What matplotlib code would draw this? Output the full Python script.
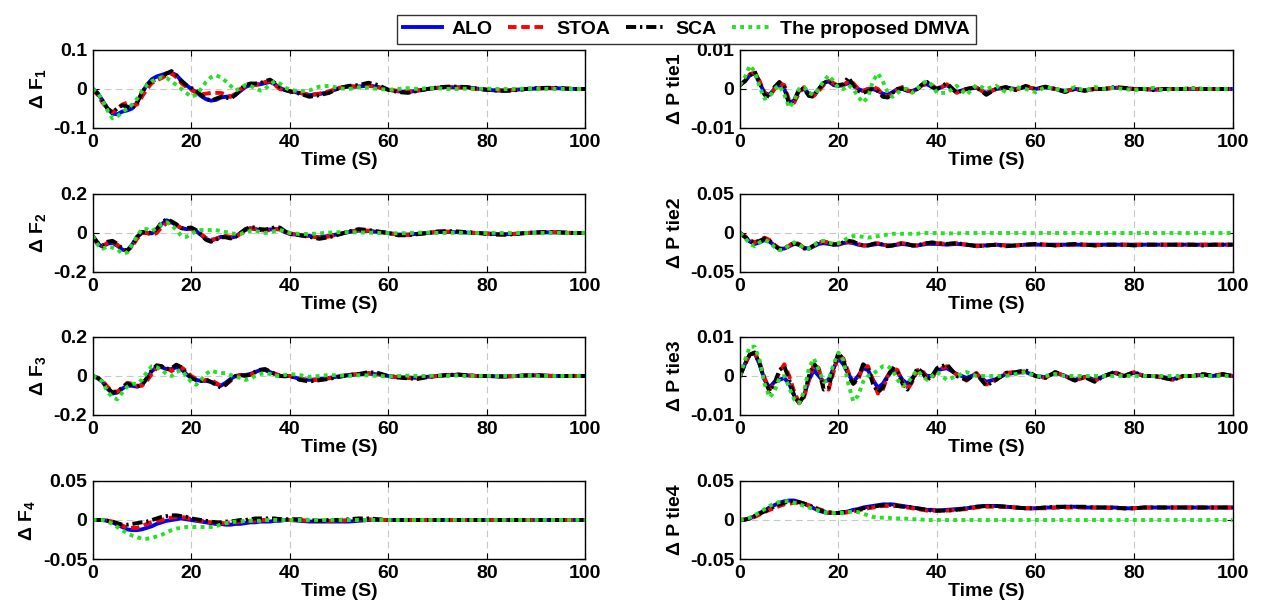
import numpy as np
import matplotlib
matplotlib.use('Agg')
import matplotlib.pyplot as plt

plt.rcParams['font.family'] = ['Liberation Sans', 'DejaVu Sans']
plt.rcParams['font.weight'] = 'bold'
plt.rcParams['mathtext.fontset'] = 'custom'
plt.rcParams['mathtext.rm'] = 'Liberation Sans:bold'
plt.rcParams['mathtext.it'] = 'Liberation Sans:bold'
plt.rcParams['mathtext.bf'] = 'Liberation Sans:bold'

# time knots: every 1 s up to 40 s, then every 2 s
time_s = np.concatenate([np.arange(0, 41), np.arange(42, 101, 2)])

series_names = ['ALO', 'STOA', 'SCA', 'The proposed DMVA']

# ---------------- Delta F1 ----------------
f1_alo = [0, -0.01, -0.03, -0.05, -0.063, -0.065, -0.058, -0.055, -0.05, -0.035,
          -0.01, 0.01, 0.025, 0.032, 0.036, 0.04, 0.042, 0.035, 0.022, 0.01,
          0.0, -0.008, -0.018, -0.026, -0.03, -0.028, -0.022, -0.02, -0.019, -0.015,
          -0.005, 0.005, 0.01, 0.012, 0.012, 0.015, 0.018, 0.012, 0.003, -0.003, -0.006,
          -0.01, -0.016, -0.013, -0.008, 0.002, 0.006, 0.006, 0.009, 0.005, -0.002,
          -0.006, -0.008, -0.004, 0.0, 0.003, 0.005, 0.004, 0.004, 0.001, -0.002,
          -0.004, -0.004, -0.002, 0.0, 0.001, 0.002, 0.002, 0.001, 0.0, 0.0]
f1_stoa = [0, -0.015, -0.035, -0.05, -0.06, -0.05, -0.04, -0.035, -0.042, -0.04,
           -0.02, 0.0, 0.015, 0.022, 0.028, 0.035, 0.04, 0.03, 0.015, 0.005,
           -0.002, -0.01, -0.014, -0.012, -0.01, -0.01, -0.01, -0.014, -0.02, -0.012,
           0.0, 0.006, 0.008, 0.01, 0.012, 0.018, 0.02, 0.01, 0.0, -0.004, -0.006,
           -0.009, -0.015, -0.012, -0.006, 0.003, 0.007, 0.006, 0.009, 0.004, -0.002,
           -0.005, -0.007, -0.004, 0.0, 0.003, 0.005, 0.004, 0.003, 0.0, -0.002,
           -0.003, -0.004, -0.002, 0.0, 0.001, 0.002, 0.002, 0.001, 0.0, 0.0]
f1_sca = [0, -0.012, -0.03, -0.05, -0.06, -0.05, -0.042, -0.045, -0.05, -0.035,
          -0.01, 0.01, 0.02, 0.025, 0.03, 0.04, 0.046, 0.035, 0.02, 0.01,
          0.003, -0.005, -0.015, -0.025, -0.03, -0.025, -0.02, -0.022, -0.025, -0.015,
          0.0, 0.01, 0.014, 0.014, 0.015, 0.02, 0.024, 0.015, 0.005, -0.002, -0.006,
          -0.012, -0.02, -0.016, -0.01, 0.002, 0.008, 0.01, 0.016, 0.01, -0.002,
          -0.008, -0.01, -0.005, 0.0, 0.004, 0.006, 0.006, 0.005, 0.001, -0.002,
          -0.004, -0.005, -0.003, 0.0, 0.002, 0.003, 0.003, 0.001, 0.0, 0.0]
f1_dmva = [0, -0.01, -0.03, -0.055, -0.075, -0.07, -0.06, -0.05, -0.04, -0.025,
           -0.005, 0.01, 0.02, 0.025, 0.03, 0.028, 0.02, 0.01, 0.0, -0.01,
           -0.02, -0.015, 0.0, 0.018, 0.03, 0.035, 0.03, 0.02, 0.008, -0.004,
           0.002, 0.01, 0.008, 0.002, -0.004, 0.0, 0.012, 0.02, 0.014, 0.004, -0.002,
           -0.006, -0.004, 0.006, 0.008, 0.002, 0.0, 0.004, 0.003, 0.0, -0.002,
           0.0, 0.002, 0.0, 0.002, 0.002, 0.0, 0.0, 0.001, 0.0, 0.001,
           0.0, 0.0, 0.0, 0.001, 0.0, 0.0, 0.0, 0.0, 0.0, 0.0]

# ---------------- Delta F2 ----------------
f2_alo = [-0.02, -0.055, -0.07, -0.055, -0.05, -0.065, -0.085, -0.09, -0.06, -0.02,
          0.0, 0.0, -0.002, 0.015, 0.045, 0.065, 0.055, 0.04, 0.025, 0.02,
          0.02, 0.01, -0.01, -0.03, -0.04, -0.03, -0.02, -0.02, -0.025, -0.018,
          0.0, 0.015, 0.025, 0.02, 0.015, 0.015, 0.018, 0.02, 0.018, 0.005, -0.005,
          -0.01, -0.015, -0.022, -0.015, -0.005, 0.005, 0.012, 0.01, 0.005, 0.0,
          -0.008, -0.008, -0.004, 0.0, 0.005, 0.005, 0.004, 0.002, 0.0, -0.002,
          -0.006, -0.006, -0.004, 0.0, 0.002, 0.003, 0.003, 0.001, 0.0, 0.0]
f2_stoa = [-0.015, -0.05, -0.068, -0.05, -0.045, -0.06, -0.085, -0.09, -0.07, -0.03,
           0.0, 0.0, -0.01, 0.0, 0.03, 0.05, 0.055, 0.04, 0.025, 0.02,
           0.022, 0.012, -0.005, -0.025, -0.035, -0.03, -0.02, -0.015, -0.02, -0.02,
           -0.005, 0.012, 0.022, 0.022, 0.015, 0.012, 0.015, 0.02, 0.02, 0.01, -0.002,
           -0.01, -0.016, -0.024, -0.018, -0.006, 0.006, 0.014, 0.012, 0.006, 0.0,
           -0.01, -0.01, -0.005, 0.0, 0.006, 0.007, 0.006, 0.003, 0.0, -0.003,
           -0.007, -0.007, -0.004, 0.0, 0.002, 0.004, 0.004, 0.001, 0.0, 0.0]
f2_sca = [-0.015, -0.05, -0.065, -0.045, -0.04, -0.055, -0.08, -0.092, -0.065, -0.02,
          0.005, 0.005, 0.0, 0.02, 0.055, 0.07, 0.06, 0.045, 0.025, 0.025,
          0.028, 0.015, -0.01, -0.035, -0.045, -0.035, -0.022, -0.022, -0.028, -0.02,
          0.0, 0.02, 0.03, 0.028, 0.02, 0.018, 0.022, 0.03, 0.028, 0.01, -0.005,
          -0.012, -0.02, -0.03, -0.022, -0.008, 0.008, 0.02, 0.015, 0.008, 0.0,
          -0.012, -0.012, -0.006, 0.0, 0.008, 0.01, 0.008, 0.004, 0.0, -0.004,
          -0.008, -0.009, -0.005, 0.0, 0.003, 0.005, 0.005, 0.002, 0.0, 0.0]
f2_dmva = [-0.015, -0.06, -0.08, -0.07, -0.075, -0.085, -0.105, -0.1, -0.06, -0.015,
           0.02, 0.02, 0.01, 0.025, 0.045, 0.055, 0.04, 0.015, -0.015, -0.02,
           -0.005, 0.01, 0.015, 0.015, 0.015, 0.015, 0.01, 0.005, 0.0, -0.005,
           -0.005, 0.005, 0.01, 0.01, 0.005, 0.0, 0.005, 0.01, 0.015, 0.01, 0.0,
           -0.005, -0.005, -0.002, 0.002, 0.004, 0.004, 0.003, 0.002, 0.0, 0.0,
           -0.002, 0.0, 0.002, 0.002, 0.0, 0.0, 0.002, 0.0, 0.0, 0.0,
           0.001, 0.0, 0.0, 0.0, 0.0, 0.0, 0.001, 0.0, 0.0, 0.0]

# ---------------- Delta F3 ----------------
f3_alo = [0, -0.01, -0.03, -0.065, -0.09, -0.085, -0.065, -0.05, -0.05, -0.055,
          -0.045, -0.015, 0.025, 0.045, 0.045, 0.035, 0.035, 0.045, 0.035, 0.01,
          -0.01, -0.02, -0.025, -0.025, -0.03, -0.04, -0.05, -0.035, -0.015, 0.0,
          0.005, 0.005, 0.01, 0.02, 0.03, 0.03, 0.02, 0.01, 0.0, 0.0, 0.0,
          -0.015, -0.02, -0.016, -0.01, -0.002, 0.005, 0.008, 0.012, 0.008, 0.0,
          -0.006, -0.008, -0.01, -0.004, 0.0, 0.004, 0.006, 0.003, 0.0, 0.0,
          -0.002, -0.002, 0.0, 0.002, 0.003, 0.001, 0.0, 0.0, 0.0, 0.0]
f3_stoa = [0, -0.01, -0.025, -0.055, -0.08, -0.08, -0.06, -0.035, -0.04, -0.05,
           -0.05, -0.025, 0.01, 0.04, 0.05, 0.04, 0.025, 0.04, 0.045, 0.025,
           0.0, -0.015, -0.022, -0.02, -0.02, -0.035, -0.05, -0.045, -0.025, -0.005,
           0.005, 0.002, 0.005, 0.018, 0.03, 0.035, 0.025, 0.012, 0.002, -0.002, 0.0,
           -0.016, -0.024, -0.018, -0.012, -0.003, 0.006, 0.01, 0.015, 0.01, 0.0,
           -0.007, -0.01, -0.012, -0.005, 0.0, 0.005, 0.007, 0.003, 0.0, 0.0,
           -0.002, -0.003, 0.0, 0.003, 0.003, 0.002, 0.0, 0.0, 0.0, 0.0]
f3_sca = [0, -0.01, -0.03, -0.06, -0.085, -0.08, -0.06, -0.04, -0.045, -0.055,
          -0.045, -0.01, 0.03, 0.055, 0.05, 0.035, 0.04, 0.058, 0.045, 0.015,
          -0.01, -0.02, -0.025, -0.02, -0.03, -0.045, -0.06, -0.045, -0.02, 0.0,
          0.005, 0.0, 0.008, 0.022, 0.032, 0.035, 0.022, 0.01, 0.0, -0.002, 0.002,
          -0.02, -0.028, -0.022, -0.015, -0.005, 0.005, 0.01, 0.02, 0.015, 0.0,
          -0.008, -0.012, -0.015, -0.006, 0.0, 0.005, 0.008, 0.004, 0.0, 0.0,
          -0.002, -0.003, 0.0, 0.003, 0.004, 0.002, 0.0, 0.0, 0.001, 0.0]
f3_dmva = [0, -0.01, -0.03, -0.08, -0.11, -0.12, -0.085, -0.055, -0.04, -0.04,
           -0.02, 0.02, 0.05, 0.045, 0.03, 0.01, 0.0, 0.02, 0.03, 0.0,
           -0.03, -0.045, -0.02, 0.01, 0.028, 0.02, 0.015, 0.015, 0.005, -0.005,
           -0.01, -0.02, -0.015, 0.0, 0.01, 0.015, 0.01, 0.0, 0.0, 0.005, 0.01,
           0.005, -0.005, 0.0, 0.005, 0.003, 0.0, 0.004, 0.003, 0.0, -0.002,
           0.0, 0.002, 0.0, 0.0, 0.002, 0.0, 0.002, 0.0, 0.0, 0.001,
           0.0, 0.0, 0.0, 0.001, 0.0, 0.0, 0.0, 0.0, 0.0, 0.0]

# ---------------- Delta F4 ----------------
f4_alo = [0, 0.0, 0.0, -0.001, -0.003, -0.006, -0.009, -0.012, -0.013, -0.013,
          -0.012, -0.01, -0.008, -0.005, -0.003, -0.001, 0.0, 0.001, 0.002, 0.001,
          0.0, -0.001, -0.002, -0.003, -0.004, -0.005, -0.005, -0.006, -0.006, -0.005,
          -0.005, -0.004, -0.003, -0.003, -0.002, -0.002, -0.002, -0.001, -0.001, 0.0, 0.0,
          -0.001, -0.002, -0.002, -0.002, -0.002, -0.002, -0.001, 0.0, 0.0, 0.0,
          0.0, 0.0, 0.0, 0.0, 0.0, 0.0, 0.0, 0.0, 0.0, 0.0,
          0.0, 0.0, 0.0, 0.0, 0.0, 0.0, 0.0, 0.0, 0.0, 0.0]
f4_stoa = [0, 0.0, 0.0, -0.001, -0.002, -0.004, -0.007, -0.01, -0.01, -0.01,
           -0.008, -0.005, -0.003, -0.001, 0.0, 0.002, 0.003, 0.004, 0.004, 0.003,
           0.001, 0.0, -0.001, -0.002, -0.003, -0.003, -0.004, -0.004, -0.004, -0.003,
           -0.002, -0.002, -0.001, -0.001, 0.0, 0.0, 0.0, 0.001, 0.001, 0.0, 0.0,
           0.0, -0.001, -0.001, -0.001, -0.001, 0.0, 0.001, 0.001, 0.0, 0.0,
           0.0, 0.0, 0.0, 0.0, 0.0, 0.0, 0.0, 0.0, 0.0, 0.0,
           0.0, 0.0, 0.0, 0.0, 0.0, 0.0, 0.0, 0.0, 0.0, 0.0]
f4_sca = [0, 0.0, 0.0, -0.001, -0.002, -0.004, -0.006, -0.006, -0.005, -0.004,
          -0.003, -0.002, 0.0, 0.002, 0.004, 0.005, 0.006, 0.006, 0.005, 0.004,
          0.002, 0.001, 0.0, -0.001, -0.002, -0.003, -0.003, -0.002, -0.002, -0.001,
          0.0, 0.0, 0.001, 0.002, 0.002, 0.002, 0.002, 0.002, 0.001, 0.001, 0.001,
          0.001, 0.0, -0.001, 0.0, 0.0, 0.001, 0.002, 0.002, 0.001, 0.0,
          0.0, 0.0, 0.0, 0.0, 0.0, 0.0, 0.0, 0.0, 0.0, 0.0,
          0.0, 0.0, 0.0, 0.0, 0.0, 0.0, 0.0, 0.0, 0.0, 0.0]
f4_dmva = [0, 0.0, 0.0, -0.002, -0.005, -0.009, -0.013, -0.017, -0.02, -0.022,
           -0.024, -0.024, -0.023, -0.021, -0.019, -0.016, -0.013, -0.011, -0.01, -0.009,
           -0.009, -0.009, -0.009, -0.009, -0.009, -0.008, -0.006, -0.004, -0.003, -0.002,
           -0.002, -0.001, -0.001, -0.001, -0.001, 0.0, 0.0, 0.0, 0.0, 0.0, 0.0,
           0.0, 0.0, 0.0, 0.0, 0.0, 0.0, 0.0, 0.0, 0.0, 0.0,
           0.0, 0.0, 0.0, 0.0, 0.0, 0.0, 0.0, 0.0, 0.0, 0.0,
           0.0, 0.0, 0.0, 0.0, 0.0, 0.0, 0.0, 0.0, 0.0, 0.0]

# ---------------- Delta P tie1 ----------------
p1_alo = [0.001, 0.002, 0.0035, 0.004, 0.0015, -0.001, -0.0015, 0.0, 0.001, 0.0,
          -0.0035, -0.003, -0.0005, 0.0, -0.0012, -0.0015, 0.0, 0.0015, 0.002, 0.001,
          0.0008, 0.001, 0.0015, 0.001, 0.0, -0.0005, 0.0, 0.0, -0.0005, -0.0012,
          -0.0015, -0.0008, 0.0, 0.0, -0.0005, -0.0005, 0.0, 0.001, 0.0012, 0.0005, 0.0,
          0.001, -0.0008, 0.0, 0.0003, -0.001, 0.0, 0.0003, 0.0, 0.0005, 0.0,
          0.0004, 0.0, -0.0005, 0.0, -0.0003, 0.0, 0.0, 0.0003, 0.0002, 0.0,
          0.0, -0.0002, 0.0, 0.0, 0.0, 0.0, 0.0, 0.0, 0.0, 0.0]
p1_stoa = [0.001, 0.002, 0.0038, 0.0042, 0.002, -0.001, -0.002, 0.0, 0.0015, 0.001,
           -0.003, -0.0035, -0.001, 0.0005, -0.001, -0.0018, -0.0005, 0.001, 0.002, 0.0015,
           0.0008, 0.001, 0.002, 0.0015, 0.0, -0.0005, 0.0, 0.0005, 0.0, -0.0015,
           -0.002, -0.0012, 0.0, 0.0005, -0.0003, -0.0008, 0.0, 0.001, 0.0015, 0.001, 0.0,
           0.0012, -0.001, 0.0, 0.0004, -0.0012, 0.0, 0.0004, -0.0002, 0.0006, 0.0,
           0.0005, 0.0, -0.0006, 0.0, -0.0004, 0.0, 0.0, 0.0004, 0.0002, 0.0,
           0.0, -0.0002, 0.0, 0.0, 0.0, 0.0, 0.0, 0.0, 0.0, 0.0]
p1_sca = [0.001, 0.002, 0.0035, 0.0045, 0.0015, -0.0015, -0.002, 0.0005, 0.0018, 0.0005,
          -0.004, -0.003, 0.0, 0.0, -0.0018, -0.002, 0.0, 0.0015, 0.0022, 0.001,
          0.001, 0.0012, 0.003, 0.001, -0.0005, -0.001, -0.0005, 0.0, -0.0005, -0.002,
          -0.0022, -0.001, 0.0, 0.0002, -0.0005, -0.0008, 0.0, 0.0012, 0.0018, 0.0005, 0.0,
          0.0015, -0.001, 0.0, 0.0005, -0.0015, 0.0, 0.0005, -0.0003, 0.0008, 0.0,
          0.0006, 0.0, -0.0008, 0.0, -0.0005, 0.0, 0.0, 0.0005, 0.0003, 0.0,
          0.0, -0.0003, 0.0, 0.0, 0.0, 0.0002, 0.0, 0.0, 0.0, 0.0]
p1_dmva = [0.001, 0.003, 0.006, 0.0045, 0.0005, -0.0025, -0.002, 0.0, 0.001, -0.0015,
           -0.0048, -0.003, 0.0, 0.0005, -0.001, -0.0015, 0.0, 0.002, 0.0035, 0.002,
           0.0002, 0.0, 0.001, 0.0, -0.002, -0.0035, -0.002, 0.002, 0.004, 0.002,
           -0.001, -0.002, -0.001, 0.0, 0.0, -0.001, 0.0, 0.0015, 0.002, 0.001, -0.001,
           -0.001, 0.0008, -0.0015, 0.001, 0.0, 0.0008, -0.0008, 0.0005, 0.0, -0.0008,
           0.0005, 0.0, -0.0005, 0.0005, -0.0005, 0.0005, 0.0, 0.0003, 0.0, -0.0003,
           0.0, 0.0003, -0.0003, 0.0, 0.0, 0.0002, 0.0, 0.0, 0.0, 0.0]

# ---------------- Delta P tie2 ----------------
p2_alo = [0.0, -0.005, -0.011, -0.014, -0.012, -0.009, -0.011, -0.016, -0.02, -0.02,
          -0.017, -0.014, -0.015, -0.019, -0.02, -0.017, -0.014, -0.013, -0.014, -0.015,
          -0.015, -0.013, -0.012, -0.013, -0.015, -0.016, -0.016, -0.015, -0.014, -0.015,
          -0.016, -0.016, -0.015, -0.014, -0.015, -0.016, -0.016, -0.015, -0.014, -0.014, -0.014,
          -0.015, -0.014, -0.015, -0.016, -0.016, -0.015, -0.016, -0.016, -0.015, -0.015,
          -0.015, -0.015, -0.015, -0.015, -0.015, -0.015, -0.015, -0.015, -0.015, -0.015,
          -0.015, -0.015, -0.015, -0.015, -0.015, -0.015, -0.015, -0.015, -0.015, -0.015]
p2_stoa = [0.0, -0.004, -0.009, -0.012, -0.009, -0.006, -0.009, -0.015, -0.02, -0.02,
           -0.016, -0.012, -0.014, -0.019, -0.02, -0.016, -0.012, -0.011, -0.012, -0.014,
           -0.014, -0.012, -0.011, -0.012, -0.014, -0.016, -0.016, -0.014, -0.013, -0.015,
           -0.016, -0.016, -0.014, -0.013, -0.014, -0.016, -0.016, -0.014, -0.013, -0.013, -0.013,
           -0.014, -0.013, -0.015, -0.017, -0.016, -0.015, -0.016, -0.016, -0.015, -0.014,
           -0.015, -0.016, -0.015, -0.015, -0.015, -0.016, -0.015, -0.015, -0.015, -0.015,
           -0.015, -0.015, -0.015, -0.015, -0.015, -0.015, -0.015, -0.015, -0.015, -0.015]
p2_sca = [0.0, -0.005, -0.01, -0.013, -0.01, -0.007, -0.01, -0.016, -0.021, -0.02,
          -0.016, -0.013, -0.015, -0.02, -0.02, -0.016, -0.012, -0.011, -0.013, -0.015,
          -0.014, -0.012, -0.01, -0.011, -0.014, -0.016, -0.016, -0.014, -0.013, -0.015,
          -0.017, -0.016, -0.014, -0.013, -0.014, -0.016, -0.016, -0.014, -0.013, -0.012, -0.013,
          -0.014, -0.013, -0.015, -0.017, -0.016, -0.015, -0.017, -0.016, -0.015, -0.014,
          -0.015, -0.016, -0.015, -0.014, -0.015, -0.016, -0.015, -0.015, -0.015, -0.016,
          -0.015, -0.015, -0.015, -0.015, -0.015, -0.015, -0.016, -0.015, -0.015, -0.015]
p2_dmva = [0.0, -0.006, -0.014, -0.017, -0.012, -0.009, -0.012, -0.018, -0.022, -0.021,
           -0.015, -0.012, -0.015, -0.019, -0.02, -0.016, -0.011, -0.01, -0.012, -0.014,
           -0.013, -0.01, -0.006, -0.004, -0.004, -0.005, -0.006, -0.005, -0.004, -0.003,
           -0.002, -0.001, -0.001, -0.001, -0.001, -0.001, -0.001, 0.0, 0.0, 0.0, 0.0,
           -0.0005, -0.0005, 0.0, 0.0, 0.0, 0.0, 0.0, 0.0, 0.0, 0.0,
           0.0, 0.0, 0.0, 0.0, 0.0, 0.0, 0.0, 0.0, 0.0, 0.0,
           0.0, 0.0, 0.0, 0.0, 0.0, 0.0, 0.0, 0.0, 0.0, 0.0]

# ---------------- Delta P tie3 ----------------
p3_alo = [0.0, 0.003, 0.0055, 0.0058, 0.003, -0.001, -0.003, -0.0015, -0.001, -0.0005,
          -0.002, -0.005, -0.007, -0.005, -0.001, 0.0015, 0.0, -0.0015, -0.001, 0.002,
          0.0045, 0.003, 0.0005, -0.0015, 0.0, 0.002, 0.0015, -0.001, -0.003, -0.002,
          0.0, 0.0015, 0.001, -0.001, -0.002, -0.0005, 0.001, 0.001, 0.0, 0.0, 0.0015,
          0.002, 0.0005, -0.0005, 0.0005, -0.0015, -0.0008, 0.0005, 0.0008, 0.001, 0.0,
          -0.0003, 0.0008, 0.0, -0.001, -0.0002, -0.001, 0.0, 0.0008, 0.0, 0.0008,
          0.0, 0.0, -0.0003, -0.0008, 0.0, 0.0, 0.0003, 0.0, 0.0003, 0.0]
p3_stoa = [0.0, 0.003, 0.0055, 0.006, 0.0035, -0.0005, -0.0035, -0.002, 0.001, 0.003,
           0.0, -0.004, -0.0068, -0.0055, -0.001, 0.003, 0.002, -0.003, -0.0035, 0.001,
           0.0055, 0.0045, 0.001, -0.002, -0.001, 0.0025, 0.0025, -0.001, -0.0045, -0.0035,
           0.0, 0.002, 0.0015, -0.0015, -0.0035, -0.0015, 0.0015, 0.0015, -0.0005, -0.0005, 0.0015,
           0.0025, 0.0003, -0.0012, 0.0008, -0.0022, -0.001, 0.0008, 0.001, 0.0012, 0.0,
           -0.0005, 0.001, 0.0, -0.0012, -0.0003, -0.0013, 0.0, 0.001, 0.0, 0.001,
           0.0, 0.0, -0.0005, -0.001, 0.0, 0.0, 0.0005, 0.0, 0.0005, 0.0]
p3_sca = [0.0, 0.003, 0.0055, 0.006, 0.003, -0.001, -0.004, -0.002, 0.0015, 0.0025,
          -0.001, -0.005, -0.007, -0.005, 0.0, 0.0032, 0.0015, -0.0035, -0.003, 0.002,
          0.006, 0.004, 0.0, -0.002, -0.0005, 0.003, 0.002, -0.002, -0.0042, -0.003,
          0.0, 0.002, 0.001, -0.002, -0.0035, -0.001, 0.002, 0.001, -0.001, 0.0, 0.002,
          0.003, 0.0, -0.001, 0.0005, -0.0025, -0.001, 0.0008, 0.001, 0.0015, 0.0,
          -0.0005, 0.001, 0.0, -0.0012, -0.0003, -0.0015, 0.0, 0.001, 0.0, 0.001,
          0.0, 0.0, -0.0005, -0.001, 0.0, 0.0, 0.0005, 0.0, 0.0005, 0.0]
p3_dmva = [0.0, 0.004, 0.0075, 0.0075, 0.004, -0.002, -0.0055, -0.004, -0.0005, 0.0,
           -0.003, -0.006, -0.007, -0.004, 0.002, 0.0045, 0.0015, -0.0015, -0.001, 0.003,
           0.006, 0.004, -0.002, -0.0065, -0.005, -0.0015, 0.0, 0.0005, 0.0015, 0.0025,
           0.0025, 0.0015, -0.001, -0.0025, -0.002, 0.0, 0.0015, 0.0, -0.001, 0.0, 0.001,
           -0.001, 0.0, 0.001, 0.0, 0.0, 0.0, 0.0, 0.0005, 0.001, 0.0,
           0.0, 0.0005, 0.0, 0.0, 0.0, 0.0, 0.0, 0.0, 0.0, 0.0,
           0.0, 0.0, 0.0, 0.0, 0.0, 0.0, 0.0, 0.0, 0.0, 0.0]

# ---------------- Delta P tie4 ----------------
p4_alo = [0.0, 0.0005, 0.002, 0.005, 0.009, 0.012, 0.016, 0.019, 0.022, 0.024,
          0.025, 0.025, 0.023, 0.021, 0.018, 0.015, 0.012, 0.01, 0.009, 0.009,
          0.009, 0.01, 0.011, 0.013, 0.014, 0.016, 0.017, 0.018, 0.019, 0.02,
          0.02, 0.02, 0.019, 0.018, 0.017, 0.016, 0.015, 0.014, 0.013, 0.013, 0.012,
          0.013, 0.014, 0.015, 0.017, 0.018, 0.018, 0.017, 0.016, 0.015, 0.015,
          0.016, 0.016, 0.017, 0.017, 0.016, 0.016, 0.016, 0.016, 0.015, 0.015,
          0.016, 0.016, 0.016, 0.016, 0.016, 0.016, 0.016, 0.016, 0.016, 0.016]
p4_stoa = [0.0, 0.0005, 0.002, 0.004, 0.007, 0.01, 0.013, 0.015, 0.018, 0.02,
           0.021, 0.022, 0.022, 0.021, 0.019, 0.017, 0.014, 0.012, 0.01, 0.009,
           0.009, 0.009, 0.01, 0.011, 0.012, 0.014, 0.015, 0.016, 0.017, 0.018,
           0.018, 0.018, 0.018, 0.017, 0.016, 0.015, 0.014, 0.013, 0.012, 0.012, 0.012,
           0.012, 0.013, 0.014, 0.016, 0.017, 0.017, 0.017, 0.016, 0.015, 0.015,
           0.015, 0.016, 0.016, 0.016, 0.016, 0.016, 0.016, 0.015, 0.015, 0.015,
           0.016, 0.016, 0.016, 0.016, 0.016, 0.016, 0.016, 0.016, 0.016, 0.016]
p4_sca = [0.0, 0.0005, 0.002, 0.005, 0.008, 0.011, 0.014, 0.017, 0.02, 0.022,
          0.024, 0.024, 0.023, 0.021, 0.019, 0.016, 0.013, 0.011, 0.01, 0.009,
          0.009, 0.01, 0.011, 0.012, 0.013, 0.015, 0.016, 0.017, 0.018, 0.019,
          0.02, 0.019, 0.018, 0.017, 0.017, 0.016, 0.015, 0.014, 0.013, 0.012, 0.012,
          0.012, 0.013, 0.015, 0.017, 0.018, 0.018, 0.017, 0.016, 0.015, 0.015,
          0.016, 0.017, 0.017, 0.017, 0.017, 0.016, 0.016, 0.016, 0.015, 0.015,
          0.016, 0.016, 0.016, 0.016, 0.016, 0.016, 0.016, 0.016, 0.016, 0.016]
p4_dmva = [0.0, 0.001, 0.003, 0.006, 0.01, 0.014, 0.018, 0.021, 0.023, 0.024,
           0.024, 0.022, 0.02, 0.018, 0.016, 0.014, 0.012, 0.01, 0.009, 0.009,
           0.009, 0.009, 0.01, 0.011, 0.01, 0.008, 0.006, 0.004, 0.003, 0.003,
           0.003, 0.002, 0.002, 0.002, 0.0015, 0.001, 0.001, 0.0005, 0.0, 0.0, 0.0,
           0.0, 0.0, 0.0, 0.0, 0.0, 0.0, 0.0, 0.0, 0.0, 0.0,
           0.0, 0.0, 0.0, 0.0, 0.0, 0.0, 0.0, 0.0, 0.0, 0.0,
           0.0, 0.0, 0.0, 0.0, 0.0, 0.0, 0.0, 0.0, 0.0, 0.0]

# y-axis labels, limits and tick labels per panel
left_labels = ['Δ F$_1$', 'Δ F$_2$', 'Δ F$_3$', 'Δ F$_4$']
right_labels = ['Δ P tie1', 'Δ P tie2', 'Δ P tie3', 'Δ P tie4']
left_lims = [0.1, 0.2, 0.2, 0.05]
right_lims = [0.01, 0.05, 0.01, 0.05]
left_ticklabels = [['-0.1', '0', '0.1'], ['-0.2', '0', '0.2'],
                   ['-0.2', '0', '0.2'], ['-0.05', '0', '0.05']]
right_ticklabels = [['-0.01', '0', '0.01'], ['-0.05', '0', '0.05'],
                    ['-0.01', '0', '0.01'], ['-0.05', '0', '0.05']]

left_data = [(f1_alo, f1_stoa, f1_sca, f1_dmva),
             (f2_alo, f2_stoa, f2_sca, f2_dmva),
             (f3_alo, f3_stoa, f3_sca, f3_dmva),
             (f4_alo, f4_stoa, f4_sca, f4_dmva)]
right_data = [(p1_alo, p1_stoa, p1_sca, p1_dmva),
              (p2_alo, p2_stoa, p2_sca, p2_dmva),
              (p3_alo, p3_stoa, p3_sca, p3_dmva),
              (p4_alo, p4_stoa, p4_sca, p4_dmva)]

styles = [dict(color='#0000ff', ls='-'),
          dict(color='#ff0000', ls=(0, (2.2, 1.2))),
          dict(color='black', ls=(0, (2.6, 1.0, 0.6, 1.0))),
          dict(color='#22e322', ls=(0, (1.0, 1.1)))]

fig = plt.figure(figsize=(12.61, 6.10), dpi=100)

col_left = [0.0735, 0.5868]
col_width = 0.3906
row_bottom = [0.7902, 0.5541, 0.3197, 0.0836]
row_height = 0.1279


def draw_panel(ax, series, lim, ticklabels, ylabel):
    lines = []
    for vals, name, st in zip(series, series_names, styles):
        ln, = ax.plot(time_s, vals, lw=2.8, label=name, **st)
        lines.append(ln)
    ax.set_xlim(0, 100)
    ax.set_ylim(-lim, lim)
    ax.set_xticks([0, 20, 40, 60, 80, 100])
    ax.set_yticks([-lim, 0, lim])
    ax.set_yticklabels(ticklabels)
    ax.tick_params(direction='in', top=True, right=True, length=4,
                   labelsize=14, pad=4)
    for lab in ax.get_xticklabels() + ax.get_yticklabels():
        lab.set_fontweight('bold')
    ax.grid(True, linestyle=(0, (6, 4)), color='#c8c8c8', lw=0.8)
    ax.set_axisbelow(True)
    for sp in ax.spines.values():
        sp.set_linewidth(1.0)
    ax.set_xlabel('Time (S)', fontsize=14, fontweight='bold', labelpad=1)
    ax.set_ylabel(ylabel, fontsize=14, fontweight='bold', labelpad=4)
    return lines


handles = None
for r in range(4):
    ax = fig.add_axes([col_left[0], row_bottom[r], col_width, row_height])
    h = draw_panel(ax, left_data[r], left_lims[r], left_ticklabels[r], left_labels[r])
    if handles is None:
        handles = h
    ax = fig.add_axes([col_left[1], row_bottom[r], col_width, row_height])
    draw_panel(ax, right_data[r], right_lims[r], right_ticklabels[r], right_labels[r])

leg = fig.legend(handles, series_names, loc='upper center', ncol=4,
                 bbox_to_anchor=(0.5444, 0.992), frameon=True, fancybox=False,
                 edgecolor='black', fontsize=14, handlelength=2.0,
                 handletextpad=0.5, columnspacing=0.8, borderpad=0.3)
leg.get_frame().set_linewidth(1.0)
for txt in leg.get_texts():
    txt.set_fontweight('bold')

fig.savefig('out.png', dpi=100)
